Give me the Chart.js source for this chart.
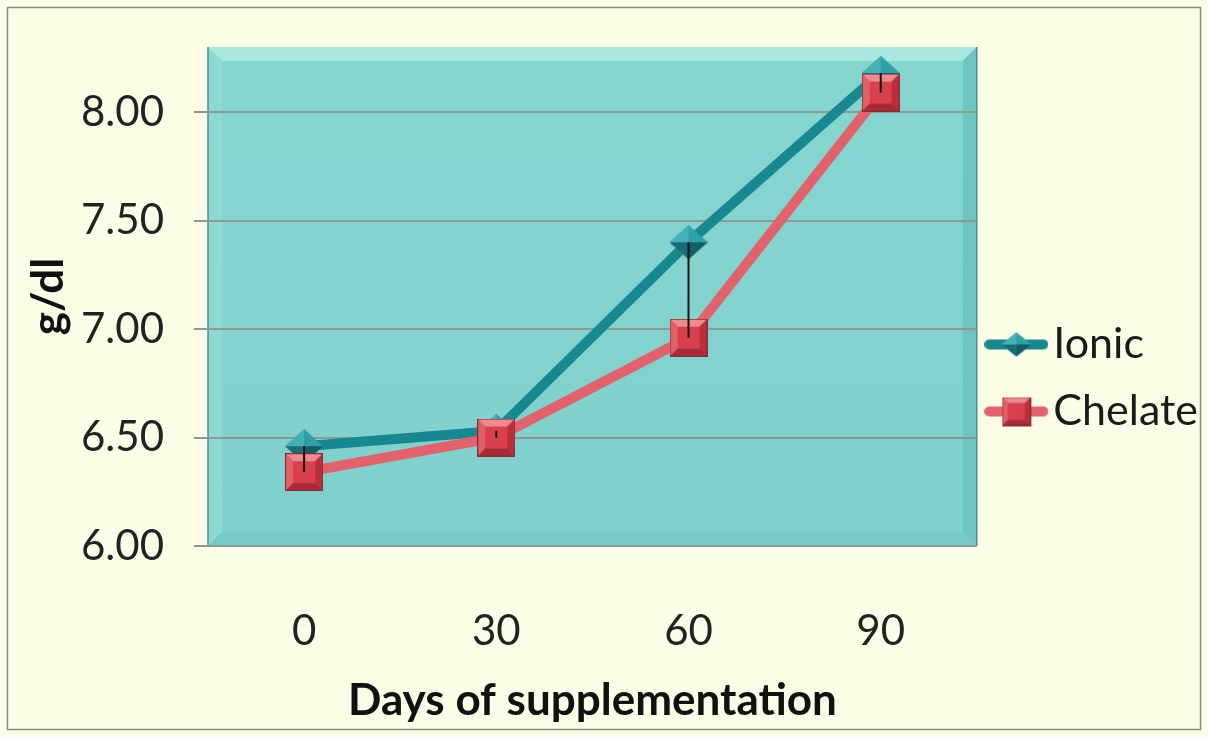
<!DOCTYPE html>
<html><head><meta charset="utf-8">
<script src="https://cdn.jsdelivr.net/npm/chart.js@4/dist/chart.umd.min.js"></script>
<style>html,body{margin:0;padding:0;background:#fcfde7;}canvas{display:block}</style>
</head><body>
<canvas id="c" width="1208" height="737"></canvas>
<script>
const categories = ['0', '30', '60', '90'];
const ionicValues = [6.46, 6.53, 7.40, 8.18];
const chelateValues = [6.34, 6.50, 6.96, 8.09];
const seriesNames = ['Ionic', 'Chelate'];
const yMin = 6.0, yMax = 8.3, yStep = 0.5;

const TEAL = '#188890', RED = '#e2626b';

function makeSquare(s) {
  const c = document.createElement('canvas'); c.width = s; c.height = s;
  const g = c.getContext('2d'); const b = Math.round(s * 0.2);
  g.fillStyle = '#d8404c'; g.fillRect(0, 0, s, s);
  g.fillStyle = '#ee8a90'; g.beginPath(); g.moveTo(0,0); g.lineTo(s,0); g.lineTo(s-b,b); g.lineTo(b,b); g.closePath(); g.fill();
  g.fillStyle = '#e0606a'; g.beginPath(); g.moveTo(0,0); g.lineTo(b,b); g.lineTo(b,s-b); g.lineTo(0,s); g.closePath(); g.fill();
  g.fillStyle = '#b8303c'; g.beginPath(); g.moveTo(s,0); g.lineTo(s,s); g.lineTo(s-b,s-b); g.lineTo(s-b,b); g.closePath(); g.fill();
  g.fillStyle = '#a82a36'; g.beginPath(); g.moveTo(0,s); g.lineTo(s,s); g.lineTo(s-b,s-b); g.lineTo(b,s-b); g.closePath(); g.fill();
  g.strokeStyle = '#8e2a33'; g.lineWidth = 1; g.strokeRect(0.5, 0.5, s-1, s-1);
  return c;
}
function makeDiamond(w, h) {
  const c = document.createElement('canvas'); c.width = w; c.height = h;
  const g = c.getContext('2d'); const cx = w/2, cy = h/2;
  g.fillStyle = '#2a9aa2';
  g.beginPath(); g.moveTo(cx,0); g.lineTo(w,cy); g.lineTo(cx,h); g.lineTo(0,cy); g.closePath(); g.fill();
  g.fillStyle = '#45b0b6'; g.beginPath(); g.moveTo(cx,0); g.lineTo(0,cy); g.lineTo(cx,cy); g.closePath(); g.fill();
  g.fillStyle = '#2fa0a8'; g.beginPath(); g.moveTo(cx,0); g.lineTo(w,cy); g.lineTo(cx,cy); g.closePath(); g.fill();
  g.fillStyle = '#176e75'; g.beginPath(); g.moveTo(cx,h); g.lineTo(0,cy); g.lineTo(cx,cy); g.closePath(); g.fill();
  g.fillStyle = '#125e64'; g.beginPath(); g.moveTo(cx,h); g.lineTo(w,cy); g.lineTo(cx,cy); g.closePath(); g.fill();
  return c;
}
function makeLegendImg(color, marker) {
  const w = 64, h = 34;
  const c = document.createElement('canvas'); c.width = w; c.height = h;
  const g = c.getContext('2d');
  g.strokeStyle = color; g.lineWidth = 10; g.lineCap = 'round';
  g.beginPath(); g.moveTo(5, h/2); g.lineTo(w-5, h/2); g.stroke();
  g.drawImage(marker, (w - marker.width)/2, (h - marker.height)/2);
  return c;
}

const diamondImg = makeDiamond(38, 34);
const squareImg = makeSquare(38);
const legendImgs = [makeLegendImg(TEAL, makeDiamond(30, 24)), makeLegendImg(RED, makeSquare(29))];

const bgPlugin = {
  id: 'bg',
  beforeDraw(chart) {
    const ctx = chart.ctx, a = chart.chartArea;
    ctx.save();
    ctx.fillStyle = '#fcfde7'; ctx.fillRect(0, 0, chart.width, chart.height);
    ctx.strokeStyle = '#8a8a80'; ctx.lineWidth = 1.5; ctx.strokeRect(7.5, 7.5, chart.width - 15, chart.height - 15);
    const L = a.left, T = a.top, R = a.right, B = a.bottom, b = 14;
    const grd = ctx.createLinearGradient(0, T, 0, B);
    grd.addColorStop(0, '#86d6d0'); grd.addColorStop(1, '#7fd0cc');
    ctx.fillStyle = grd; ctx.fillRect(L, T, R - L, B - T);
    const poly = (pts, col) => { ctx.fillStyle = col; ctx.beginPath(); ctx.moveTo(pts[0][0], pts[0][1]); for (let i = 1; i < pts.length; i++) ctx.lineTo(pts[i][0], pts[i][1]); ctx.closePath(); ctx.fill(); };
    poly([[L,T],[R,T],[R-b,T+b],[L+b,T+b]], '#a8e8e0');
    poly([[L,T],[L+b,T+b],[L+b,B-b],[L,B]], '#8ed9d3');
    poly([[R,T],[R,B],[R-b,B-b],[R-b,T+b]], '#70c4c0');
    poly([[L,B],[R,B],[R-b,B-b],[L+b,B-b]], '#78cac6');
    ctx.strokeStyle = '#4f8f8a'; ctx.lineWidth = 1.5;
    ctx.beginPath(); ctx.moveTo(L, T); ctx.lineTo(L, B); ctx.moveTo(R, T); ctx.lineTo(R, B); ctx.stroke();
    ctx.restore();
  }
};

const hiLoPlugin = {
  id: 'hilo',
  afterDatasetsDraw(chart) {
    const ctx = chart.ctx, xs = chart.scales.x, ys = chart.scales.y;
    ctx.save(); ctx.strokeStyle = '#111'; ctx.lineWidth = 2;
    categories.forEach((c, i) => {
      const x = xs.getPixelForValue(i);
      ctx.beginPath(); ctx.moveTo(x, ys.getPixelForValue(ionicValues[i])); ctx.lineTo(x, ys.getPixelForValue(chelateValues[i])); ctx.stroke();
    });
    ctx.restore();
  }
};

new Chart(document.getElementById('c'), {
  type: 'line',
  data: {
    labels: categories,
    datasets: [
      { label: seriesNames[0], data: ionicValues, borderColor: TEAL, backgroundColor: TEAL, borderWidth: 10, pointStyle: diamondImg, pointRadius: 19, order: 2, tension: 0, clip: false },
      { label: seriesNames[1], data: chelateValues, borderColor: RED, backgroundColor: RED, borderWidth: 10, pointStyle: squareImg, pointRadius: 19, order: 1, tension: 0, clip: false }
    ]
  },
  options: {
    responsive: false,
    animation: false,
    events: [],
    layout: { padding: { top: 47, right: 0, bottom: 28, left: 0 } },
    plugins: {
      tooltip: { enabled: false },
      legend: {
        position: 'right',
        labels: {
          usePointStyle: true,
          pointStyleWidth: 31,
          padding: 24,
          color: '#1a1a1a',
          font: { family: 'Lato', size: 43 },
          sort: (a, b) => a.datasetIndex - b.datasetIndex,
          generateLabels(chart) {
            const items = Chart.defaults.plugins.legend.labels.generateLabels(chart);
            items.forEach(it => { it.pointStyle = legendImgs[it.datasetIndex]; });
            return items;
          }
        }
      }
    },
    scales: {
      x: {
        offset: true,
        grid: { display: false, drawTicks: false },
        border: { display: false },
        ticks: { color: '#222', font: { family: 'Lato', size: 42 }, padding: 60 },
        title: { display: true, text: 'Days of supplementation', color: '#111', font: { family: 'Lato', size: 44, weight: 'bold' }, padding: { top: 0, bottom: -18 } },
        afterFit(s) { s.height = 709 - 546; s.paddingLeft = 0; s.paddingRight = 0; s.paddingTop = 0; s.paddingBottom = 0; }
      },
      y: {
        min: yMin, max: yMax,
        grid: { color: '#8d9a92', lineWidth: 2, tickLength: 14 },
        border: { display: false },
        ticks: { stepSize: yStep, color: '#222', font: { family: 'Lato', size: 42 }, padding: 30, callback: v => Number(v).toFixed(2) },
        afterBuildTicks(s) { s.ticks = s.ticks.filter(t => Math.abs(t.value * 2 - Math.round(t.value * 2)) < 1e-6); },
        title: { display: true, text: 'g/dl', color: '#111', font: { family: 'Lato', size: 44, weight: 'bold' }, padding: { top: 22, bottom: 0 } },
        afterFit(s) { s.width = 208; s.paddingTop = 0; s.paddingBottom = 0; s.paddingLeft = 0; s.paddingRight = 0; }
      }
    }
  },
  plugins: [bgPlugin, hiLoPlugin]
});
</script>
</body></html>
